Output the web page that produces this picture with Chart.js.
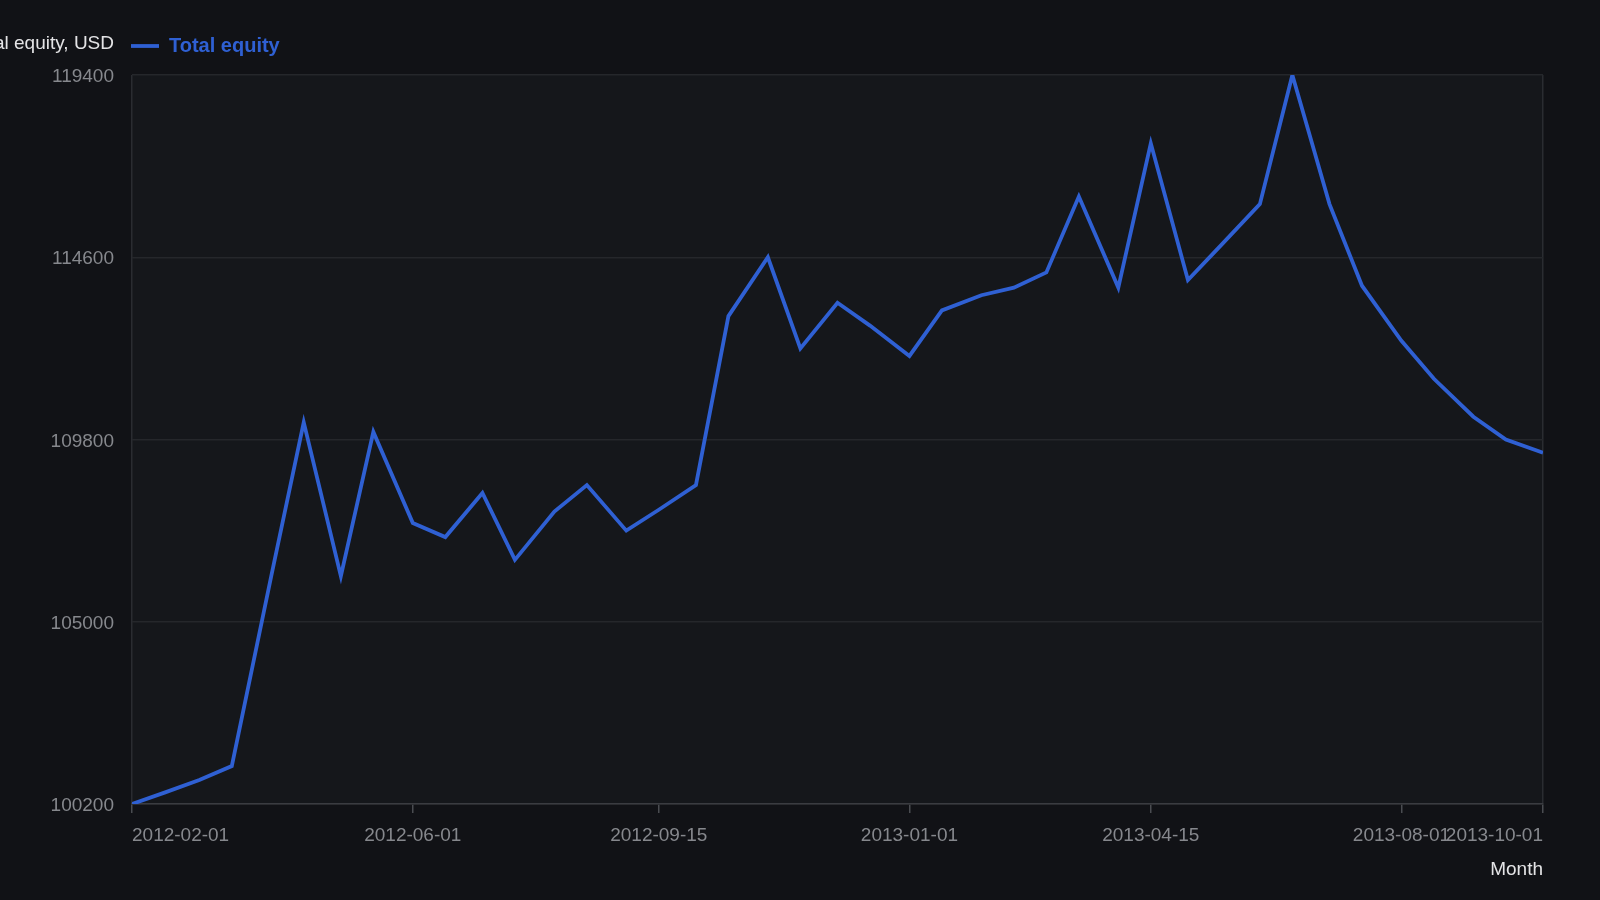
<!DOCTYPE html>
<html>
<head>
<meta charset="utf-8">
<title>Total equity</title>
<script src="https://cdn.jsdelivr.net/npm/chart.js@4.4.1/dist/chart.umd.min.js"></script>
<style>
    html, body { margin: 0; padding: 0; background: #111216; }
    #wrap { width: 1600px; height: 900px; }
</style>
</head>
<body>
<div id="wrap"><canvas id="equity"></canvas></div>
<script>
const dates = [
    '2012-02-01', '2012-02-15', '2012-03-01', '2012-03-15', '2012-04-01', '2012-04-15',
    '2012-05-01', '2012-05-15', '2012-06-01', '2012-06-15', '2012-07-01', '2012-07-15',
    '2012-08-01', '2012-08-15', '2012-09-01', '2012-09-15', '2012-10-01', '2012-10-15',
    '2012-11-01', '2012-11-15', '2012-12-01', '2012-12-15', '2013-01-01', '2013-01-15',
    '2013-02-01', '2013-02-15', '2013-03-01', '2013-03-15', '2013-04-01', '2013-04-15',
    '2013-05-01', '2013-05-15', '2013-06-01', '2013-06-15', '2013-07-01', '2013-07-15',
    '2013-08-01', '2013-08-15', '2013-09-01', '2013-09-15', '2013-10-01'
];
const equity = [
    100200, 100500, 100830, 101200, 106200, 110250,
    106200, 110000, 107600, 107230, 108390, 106630,
    107900, 108600, 107400, 107950, 108600, 113050,
    114600, 112200, 113400, 112800, 112000, 113200,
    113600, 113800, 114200, 116200, 113800, 117600,
    114000, 114900, 116000, 119400, 116000, 113850,
    112400, 111400, 110400, 109800, 109450
];
const xTicks = ['2012-02-01', '2012-06-01', '2012-09-15', '2013-01-01', '2013-04-15', '2013-08-01', '2013-10-01'];
const yTicks = [100200, 105000, 109800, 114600, 119400];

const seriesName = 'Total equity';
const yName = 'Total equity, USD';
const xName = 'Month';

const lineColor = '#2f60d3';
const toTime = d => Date.parse(d + 'T00:00:00Z');
const fmtDate = v => new Date(v).toISOString().slice(0, 10);

Chart.defaults.font.family = '"Liberation Sans", Arial, sans-serif';
Chart.defaults.font.size = 19;

const ctx = document.getElementById('equity');

new Chart(ctx, {
    type: 'line',
    data: {
        datasets: [{
            label: seriesName,
            data: dates.map((d, i) => ({ x: toTime(d), y: equity[i] })),
            borderColor: lineColor,
            backgroundColor: lineColor,
            borderWidth: 3.8,
            tension: 0,
            pointRadius: 0,
            fill: false
        }]
    },
    options: {
        responsive: true,
        maintainAspectRatio: false,
        animation: false,
        layout: { padding: { top: 75, right: 57, left: 0, bottom: 0 } },
        plugins: {
            legend: { display: false },
            tooltip: { enabled: false }
        },
        scales: {
            x: {
                type: 'linear',
                min: toTime(xTicks[0]),
                max: toTime(xTicks[xTicks.length - 1]),
                afterBuildTicks(scale) {
                    scale.ticks = xTicks.map(d => ({ value: toTime(d) }));
                },
                afterFit(scale) { scale.height = 96; },
                ticks: {
                    color: '#86888d',
                    padding: 11,
                    align: 'inner',
                    maxRotation: 0,
                    autoSkip: false,
                    callback: v => fmtDate(v)
                },
                grid: {
                    color: c => (c.index === 0 || c.index === xTicks.length - 1) ? '#2a2c31' : 'rgba(0,0,0,0)',
                    tickColor: '#4a4c51',
                    tickLength: 9,
                    lineWidth: 1.5
                },
                border: { color: '#3a3c41', width: 1.5 },
                title: {
                    display: true,
                    text: xName,
                    align: 'end',
                    color: '#e4e4e6',
                    padding: { top: 0, bottom: 19 }
                }
            },
            y: {
                min: yTicks[0],
                max: yTicks[yTicks.length - 1],
                afterBuildTicks(scale) {
                    scale.ticks = yTicks.map(v => ({ value: v }));
                },
                afterFit(scale) { scale.width = 132; },
                ticks: {
                    color: '#86888d',
                    padding: 18,
                    labelOffset: 2,
                    callback: v => String(v)
                },
                grid: {
                    color: '#25272b',
                    lineWidth: 1.5,
                    drawTicks: false
                },
                border: { display: false }
            }
        }
    },
    plugins: [{
        id: 'plotBackground',
        beforeDraw(chart) {
            const { ctx, chartArea } = chart;
            ctx.save();
            ctx.fillStyle = '#15171b';
            ctx.fillRect(chartArea.left, chartArea.top, chartArea.right - chartArea.left, chartArea.bottom - chartArea.top);
            ctx.restore();
        }
    }, {
        id: 'headerLabels',
        afterDraw(chart) {
            const { ctx, chartArea } = chart;
            const y = chartArea.top - 29;
            ctx.save();
            ctx.textBaseline = 'middle';

            ctx.font = '19px "Liberation Sans", Arial, sans-serif';
            ctx.fillStyle = '#e4e4e6';
            ctx.textAlign = 'right';
            ctx.fillText(yName, chartArea.left - 18, y - 2);

            ctx.strokeStyle = lineColor;
            ctx.lineWidth = 3.8;
            ctx.beginPath();
            ctx.moveTo(chartArea.left - 1, y);
            ctx.lineTo(chartArea.left + 27, y);
            ctx.stroke();

            ctx.font = 'bold 20px "Liberation Sans", Arial, sans-serif';
            ctx.fillStyle = lineColor;
            ctx.textAlign = 'left';
            ctx.fillText(seriesName, chartArea.left + 37, y);
            ctx.restore();
        }
    }]
});
</script>
</body>
</html>
